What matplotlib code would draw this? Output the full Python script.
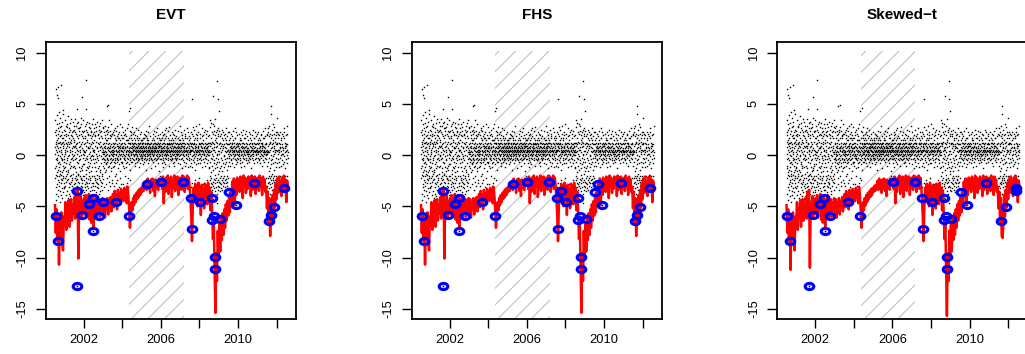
import numpy as np
import matplotlib
matplotlib.use("Agg")
import matplotlib.pyplot as plt
from matplotlib.path import Path

plt.rcParams['font.family'] = ['Liberation Sans', 'DejaVu Sans']
plt.rcParams['hatch.linewidth'] = 0.8

# daily returns, read off the cloud half-year by half-year
# one printable character per day, 'P' = 0, each step up/down = 0.13
CODE = ''.join(chr(c) for c in range(35, 127) if c != 92)
RET_STEP = 0.13
RET_EDGES = [2000.52] + [2001.0 + 0.5 * k for k in range(23)] + [2012.58]
RET_TEXT = [
    "FVb?Qk3MZ`HdT.AX8Nh[CR:WoL@^6EYe=Pa1JUiYG<Sq@K9cOBZ-D_mI5Vf>T;X2Ng`RA7L^jQC=b0YMHs^U4E@Wp?Z8Kd;O`F",
    "MX7cG[R?Tk9QaD2_J@Yg<UNXfB5W=LhS0`EZ.OnC>Vb3P^I;Xe8K@Ti:FZ1RdA[H6Yl<M`Q4Ub=S9N?_jG/WcB7L^O:Vg",
    "Pd5HZ[?W2Ml;RWbF8UgC@Xa=N0_K9Yi>QT.Ae6S^JjB<V3cO`G;ZeL7R@Wf1DTMh>X9a?Pm4F_U;Ec8Z=HbI@T2kN^Q6",
    "S=c4IXR@Pg8L^R:_Y1Nd<EW?Th6B[O9bG;ZjM3U`Ka>F7Vf@Q0UCYi;H`R5WeJ=N?b2O^D8XcL@U-Z_hP6G;TSa9Ml",
    "O;Ye6J[@Tb2R`G=Wh9M?_D4Zc<QKf8UOA;Vj>N1Ya:F`S7Ld@X^H3P?gCVZ5Eb=Ti9O_J/Wc<R@U^k6B;Mf>Q",
    "RHXeNTKbYMQ8VRF^OgLWCU`SJYcPI[E:RaM[?NUdKQGXb6T^LVf@SUOYHk<PWJc9R^MU`DSN_QhKXF=VTaP;aLR",
    "TMYGQRbOW9SKX`QHUd@YN^LVeJS[PB[cT;QMW_KR=XgNUFWS^aOL8TYQ^IVbR?WMhUN[PDTX`SK:XQ^JUfOV",
    "SYKU^HRbQW:NYP`FTNMdVO@XLUa9SQ[J_RG[TeNVK;WS[PhMY?QUrYRI^TOcL=VXNYSEbPU^K`QRWf",
    "UN[RYKTXQVMaXSOW^LTbPYJUQ[SHY`RNVeTXRMQ^OSKU_VPYdRWL[TNGXQU^SXMaVOTYRJVWPS[bNUQ",
    "RXOU[LTYNVQ^SIYRWaMUPST^KXS`QNVOYE_RUTWcL[SQYOMX^TVPRbJYU[QSNWgTXLRQVOU_XQSFMYT",
    "SYNTRQWLU[RaOV^PXKS[TcMRUYQ_NWHYTSUPVbLXRUOeQXS^MTWJY`RUNS^QWVDXOTa@RWPY[MUS",
    "TWM[RTOXJUbSQ^NYG`TVRLaYPS[KWUdQNXTQI^SeRPMV_OYUTQ;XRW^LXNcSUPXHYT[f?RVQM`XSO",
    "RULSTYO[QbMWS^NXJUPaTR[YKVQ`SHWYVONTdR^MUQ_SLX=VTPQYRNcUXJWS^QO[XTM?RVgYPU",
    "S[IWUQbMXT:RW^NYF`PVS[LYQdKUTRYOWH_XS9^aNUPQSJTeVRMY<S^OXGXQbTU[LWR_NYS",
    "QYH^TR8bMXSJTWaOV;YTG_PUfLX7SQXNYdK[R=WT^OUEaVSRIQgXN[TR5^L`PWbSUJVYMQ?hTX",
    "RXJ^TQaNVS9YOWSLYeQUG_TR[:MX`SPbKVQUQ;WNdTSYH^RXOaUM=XTUQJcVSLY_RPWFRTY",
    "P4`G@kR1YK=fW8XC;iN-^S?bH6ZQ3UM:hT9aE<YO/cJ7VT>gL2XA=`R5[F;lV0ZN?bI8^P3dK<QW,YG9eS=_B6aMDr",
    "S8XK<cQ5YF?_U;YH7aN@WR:XD=dT6^L?[J9bW<UO4XG@`P;^M8VS=aI6YU>[K;eR9XE@_N<ST7XH?bQ",
    "TOXK[RbNVTQHYS^MUa:WPLYT_JXRUcNQ[VS?YOTGSWRM^eQUP^LXSIbVTNYWQRK`XSPW",
    "SWMYTRQaOUJXT^N[LVbPSG[RYQU`KWTNVOYdSXMQ^RUHVa?T^PYRNSLWcRUQ_JXTO",
    "R[LUQSXNbQTK^WOYRaMVP[TSFYQ`UNXTRLWdTQO^YSJ^Ub<RXMVSPTQ_NXSKYaUR",
    "TXN[SRQbLUSY^MWOTJ[RVYaQSN`XTHWUPYRcO^LW^SQKVTReRNXU_PXSM?YQaTR",
    "Q9`H?eS5RK;bW@XD7_N<gR:YF?aT3ZL=p^P8UI@dV;XB6`M=[S?hO4YJ<aU9WE@fQ;ZK7^R=TG<bT@X5`Nm",
    "S;YJbXQ8^M=aTYGTR:`K9XU@VN=bP<[H^S;QL8aV=XI@UQ<_T;^KeO9bR@YF=UW<`MXS;WJ@aP<XTgNR",
]
# large up-moves
OUT_YEAR = [2000.57, 2000.62, 2000.66, 2000.70, 2000.85, 2001.65, 2001.90, 2002.10,
            2002.12, 2003.20, 2003.27, 2004.41, 2007.62, 2008.70, 2008.92, 2008.95,
            2011.69]
OUT_RET = [6.4, 5.9, 5.6, 6.6, 6.8, 4.5, 5.7, 4.5,
           7.3, 4.8, 4.9, 4.6, 5.45, 5.8, 7.2, 5.5,
           4.8]

# 1% VaR (EVT), about two values per month from mid 2000 to mid 2012
VAR_EVT = [
    -4.9, -7.6, -5.3, -8.4, -6.2, -10.7, -5.8, -7.9, -5.6, -8.6, -9.3, -6.0,
    -6.8, -4.6, -7.3, -5.2, -6.1, -4.4, -7.0, -5.0, -4.3, -6.4, -4.8, -5.7,
    -4.1, -6.2, -3.6, -3.9, -3.4, -10.1, -4.6, -5.9, -4.0, -6.2, -4.5, -5.3,
    -4.2, -5.8, -3.9, -6.1, -4.4, -5.4, -3.8, -6.3, -4.5, -6.6, -4.0, -5.2,
    -7.0, -4.3, -5.9, -3.9, -6.2, -4.6, -5.5, -4.3, -6.0, -4.6, -5.3, -4.2,
    -5.6, -4.3, -6.1, -4.6, -5.2, -4.2, -5.8, -4.5, -4.9, -4.1, -5.5, -4.4,
    -3.8, -5.1, -3.5, -4.6, -3.9, -5.3, -3.4, -4.4, -3.7, -4.8, -3.3, -4.2,
    -3.6, -4.5, -3.2, -4.1, -3.5, -4.7, -3.1, -3.9, -5.3, -7.1, -5.8, -4.6,
    -5.4, -4.2, -4.9, -3.9, -4.6, -3.7, -4.3, -3.5, -4.1, -3.3, -3.9, -3.2,
    -3.6, -3.0, -3.5, -2.9, -3.3, -2.5, -3.4, -2.3, -3.1, -2.6, -3.7, -2.4,
    -3.0, -2.3, -3.5, -2.5, -4.0, -2.4, -3.2, -2.6, -3.4, -2.3, -2.9, -2.5,
    -2.3, -3.3, -2.1, -4.7, -2.4, -3.6, -2.2, -3.0, -2.0, -3.8, -2.3, -2.9,
    -2.1, -4.1, -2.4, -3.2, -2.0, -3.5, -2.2, -2.8, -2.1, -3.9, -2.3, -3.1,
    -2.2, -3.4, -2.0, -3.0, -2.1, -3.6, -2.3, -2.9, -2.0, -3.3, -2.2, -3.0,
    -4.2, -5.9, -8.4, -5.0, -3.2, -4.6, -2.8, -4.1, -3.0, -5.0, -2.7, -3.9,
    -3.1, -5.85, -2.9, -4.4, -3.3, -5.2, -2.8, -4.0, -3.0, -4.8, -2.7, -3.9,
    -3.2, -5.4, -3.6, -5.5, -8.2, -6.4, -10.9, -15.4, -9.6, -12.3, -7.4, -10.2,
    -6.8, -9.4, -6.2, -8.3, -5.7, -7.8, -5.3, -7.1, -4.8, -6.4, -4.5, -5.9,
    -4.0, -5.6, -3.6, -4.9, -2.6, -4.0, -2.3, -4.9, -2.5, -3.9, -2.2, -3.3,
    -2.4, -3.6, -2.1, -3.2, -2.3, -4.2, -2.0, -3.0, -2.2, -3.7, -2.4, -3.3,
    -2.1, -2.9, -2.3, -4.0, -2.0, -3.4, -2.2, -3.1, -2.1, -3.8, -2.3, -2.9,
    -2.2, -3.5, -2.0, -3.1, -2.3, -3.9, -2.1, -3.3, -2.4, -3.6, -3.1, -5.2,
    -3.6, -6.5, -4.2, -7.9, -4.5, -6.8, -3.9, -6.0, -3.4, -5.1, -2.8, -4.3,
    -2.3, -3.7, -2.1, -3.2, -2.6, -4.0, -2.2, -3.4, -2.0, -3.0, -2.4, -4.6,
    -2.5, -3.3,
]
VAR_START, VAR_END = 2000.52, 2012.58
# where the skewed-t VaR dips deeper than EVT/FHS
SKT_DIPS_YEAR = [2000.74, 2001.73, 2008.81, 2011.70]
SKT_DIPS_VAL = [-11.2, -11.0, -15.7, -8.1]

# exceedances (return below VaR)
EV_YEAR = [2000.57, 2000.70, 2001.67, 2001.68, 2001.90, 2002.27, 2002.48, 2002.49,
           2002.78, 2003.00, 2003.69, 2004.35, 2005.26, 2006.02, 2007.15, 2007.54,
           2007.60, 2007.77, 2008.04, 2008.66, 2008.65, 2008.77, 2008.81, 2008.81,
           2009.06, 2009.55, 2009.69, 2009.89, 2010.85, 2011.61, 2011.72, 2011.87,
           2012.39, 2012.40]
EV_RET = [-5.94, -8.40, -3.47, -12.80, -5.84, -4.80, -4.15, -7.43,
          -5.97, -4.58, -4.58, -5.94, -2.79, -2.63, -2.63, -4.19,
          -7.17, -3.50, -4.55, -4.15, -6.33, -5.94, -9.93, -11.17,
          -6.23, -3.63, -2.85, -4.84, -2.73, -6.46, -5.87, -5.06,
          -3.18, -3.50]
HIT_EVT = [1, 1, 1, 1, 1, 1, 1, 1, 1, 1, 1, 1, 1, 1, 1, 1, 1, 0, 1, 1, 1, 1, 1, 1,
           1, 1, 0, 1, 1, 1, 1, 1, 1, 0]
HIT_FHS = [1, 1, 1, 1, 1, 1, 1, 1, 1, 0, 1, 1, 1, 1, 1, 1, 1, 1, 1, 1, 1, 1, 1, 1,
           1, 1, 1, 1, 1, 1, 1, 1, 1, 0]
HIT_SKT = [1, 1, 0, 1, 1, 1, 1, 1, 1, 0, 1, 1, 0, 1, 1, 1, 1, 0, 1, 1, 1, 1, 1, 1,
           1, 1, 0, 1, 1, 1, 0, 1, 1, 1]

TITLES = ['EVT', 'FHS', 'Skewed\u2212t']
HATCH_FROM, HATCH_TO, HATCH_TOP = 2004.37, 2007.19, 10.2


def decode(s):
    zero = CODE.index('P')
    return np.array([RET_STEP * (CODE.index(c) - zero) for c in s])


ret_x, ret_y = [], []
for i, s in enumerate(RET_TEXT):
    ret_x.append(np.linspace(RET_EDGES[i], RET_EDGES[i + 1], len(s), endpoint=False))
    ret_y.append(decode(s))
ret_x = np.concatenate(ret_x + [OUT_YEAR])
ret_y = np.concatenate(ret_y + [OUT_RET])

var_x = np.linspace(VAR_START, VAR_END, len(VAR_EVT))
var_skt = np.array(VAR_EVT)
for yr, v in zip(SKT_DIPS_YEAR, SKT_DIPS_VAL):
    var_skt[np.argmin(np.abs(var_x - yr))] = v
var_lines = [np.array(VAR_EVT), np.array(VAR_EVT), var_skt]
hits = [np.array(h, bool) for h in (HIT_EVT, HIT_FHS, HIT_SKT)]
ev_x = np.array(EV_YEAR)
ev_y = np.array(EV_RET)

circ = Path.unit_circle()
ring = Path(circ.vertices * [1.0, 0.72], circ.codes)

fig = plt.figure(figsize=(10.25, 3.54), dpi=100)
lefts = [0.0446, 0.4017, 0.7583]
for k in range(3):
    ax = fig.add_axes([lefts[k], 0.0989, 0.2442, 0.7816])
    ax.fill_between([HATCH_FROM, HATCH_TO], -16, HATCH_TOP, facecolor='none',
                    edgecolor='#c0c0c0', hatch='//', lw=0, zorder=1)
    ax.plot(ret_x, ret_y, ls='none', marker='s', ms=1.0, mew=0, color='k', zorder=2)
    ax.plot(ev_x, ev_y, ls='none', marker='s', ms=1.2, mew=0, color='k', zorder=2)
    ax.plot(var_x, var_lines[k], color='#ff0000', lw=1.8, zorder=3)
    h = hits[k]
    ax.plot(ev_x[h], ev_y[h], ls='none', marker=ring, ms=6.2, mfc='none',
            mec='#0000ff', mew=2.2, zorder=4)

    ax.set_xlim(2000.04, 2013.0)
    ax.set_ylim(-16, 11)
    ax.set_xticks([2002, 2004, 2006, 2008, 2010, 2012])
    ax.set_xticklabels(['2002', '', '2006', '', '2010', ''])
    ax.set_yticks([-15, -10, -5, 0, 5, 10])
    ax.set_yticklabels(['-15', '-10', '-5', '0', '5', '10'], rotation=90, va='center')
    ax.tick_params(axis='x', length=6.5, width=1.0, pad=4.5, labelsize=9.3)
    ax.tick_params(axis='y', length=7, width=1.0, pad=5.5, labelsize=9.3)
    for sp in ax.spines.values():
        sp.set_linewidth(1.3)
    ax.set_title(TITLES[k], fontsize=11, fontweight='bold', pad=17)

fig.savefig('out.png', dpi=100)
